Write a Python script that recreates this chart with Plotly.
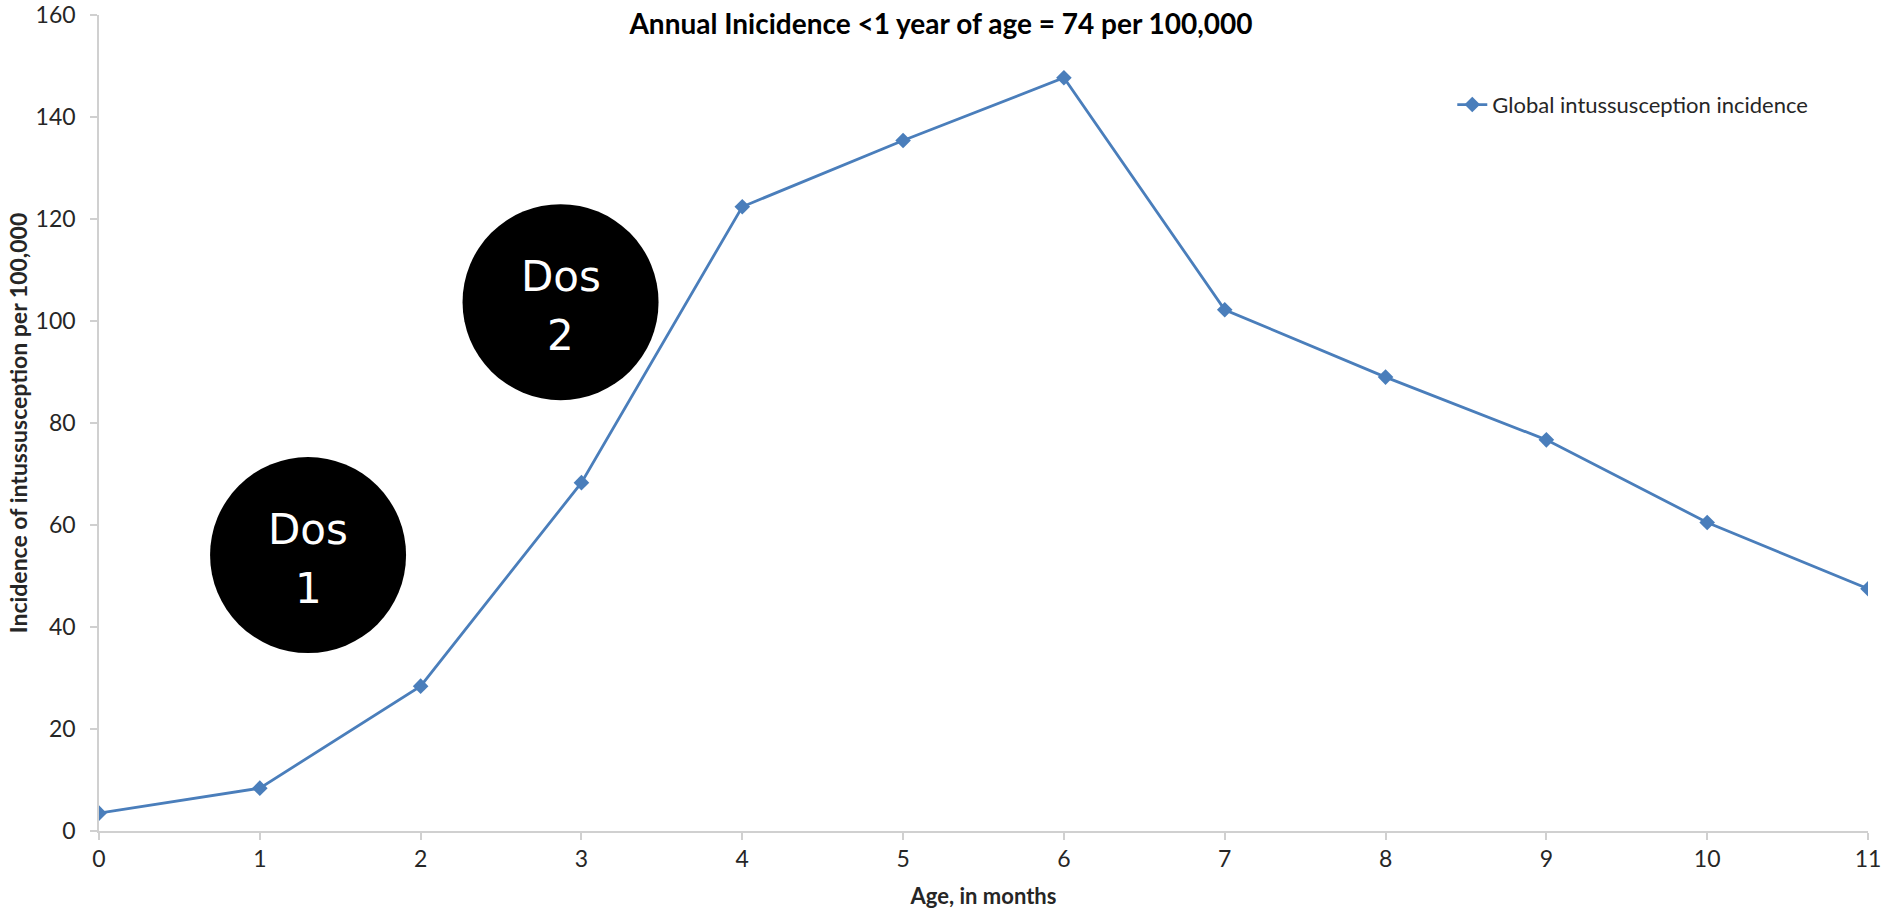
import plotly.graph_objects as go

# Age in months and global intussusception incidence per 100,000
months = [0, 1, 2, 3, 4, 5, 6, 7, 8, 9, 10, 11]
incidence = [3.5, 8.4, 28.4, 68.3, 122.4, 135.4, 147.7, 102.2, 89.0, 76.7, 60.5, 47.5]

series_name = "Global intussusception incidence"
chart_title = "Annual Inicidence <1 year of age = 74 per 100,000"
x_title = "Age, in months"
y_title = "Incidence of intussusception per 100,000"

# Dose markers: word, dose number and centre positions (data units)
dose_word = "Dos"
dose_numbers = ["1", "2"]
dose_x = [1.30, 2.87]
dose_y = [54.1, 103.7]
dose_radius_px = 98

LINE_BLUE = "#4A7EBB"
AXIS_GREY = "#D0D0D0"
TEXT_DARK = "#262626"

fig = go.Figure()
fig.add_trace(go.Scatter(
    x=months, y=incidence, name=series_name, mode="lines+markers",
    line=dict(color=LINE_BLUE, width=2.8),
    marker=dict(symbol="diamond", size=12, color=LINE_BLUE),
))

dose_font = dict(family="DejaVu Sans", size=42, color="white")
for num, cx, cy in zip(dose_numbers, dose_x, dose_y):
    fig.add_shape(
        type="circle", xref="x", yref="y",
        xsizemode="pixel", ysizemode="pixel", xanchor=cx, yanchor=cy,
        x0=-dose_radius_px, x1=dose_radius_px,
        y0=-dose_radius_px, y1=dose_radius_px,
        fillcolor="black", line=dict(width=0), layer="above",
    )
    # two-line label with a looser line spacing than the default
    for txt, shift in ((dose_word, 26), (num, -33)):
        fig.add_annotation(
            x=cx, y=cy, xref="x", yref="y", text=txt, showarrow=False,
            font=dose_font, xanchor="center", yanchor="middle", yshift=shift,
        )

axis_common = dict(
    showgrid=False, zeroline=False, showline=True, linecolor=AXIS_GREY,
    linewidth=1.5, ticks="outside", tickcolor=AXIS_GREY, ticklen=7,
    tickwidth=1.5, automargin=False,
    tickfont=dict(family="Lato", size=23, color=TEXT_DARK),
)

fig.update_layout(
    width=1885, height=909,
    margin=dict(l=99, r=17, t=15, b=78),
    paper_bgcolor="white", plot_bgcolor="white",
    title=dict(
        text=f"<b>{chart_title}</b>", x=941 / 1885, xanchor="center",
        y=1 - 24 / 909, yanchor="middle",
        font=dict(family="Lato", size=28, color="black"),
    ),
    xaxis=dict(
        range=[0, 11], tickvals=months, ticklabelstandoff=0,
        title=dict(text=f"<b>{x_title}</b>", standoff=20,
                   font=dict(family="Lato", size=22, color=TEXT_DARK)),
        **axis_common,
    ),
    yaxis=dict(
        range=[0, 160], tickvals=list(range(0, 161, 20)), ticklabelstandoff=10,
        title=dict(text=f"<b>{y_title}</b>", standoff=2,
                   font=dict(family="Lato", size=23, color=TEXT_DARK)),
        **axis_common,
    ),
    showlegend=True,
    legend=dict(
        x=0.765, y=0.89, xanchor="left", yanchor="middle",
        font=dict(family="Lato", size=22, color=TEXT_DARK),
        bgcolor="rgba(0,0,0,0)",
    ),
)

fig.write_html("out.html")
